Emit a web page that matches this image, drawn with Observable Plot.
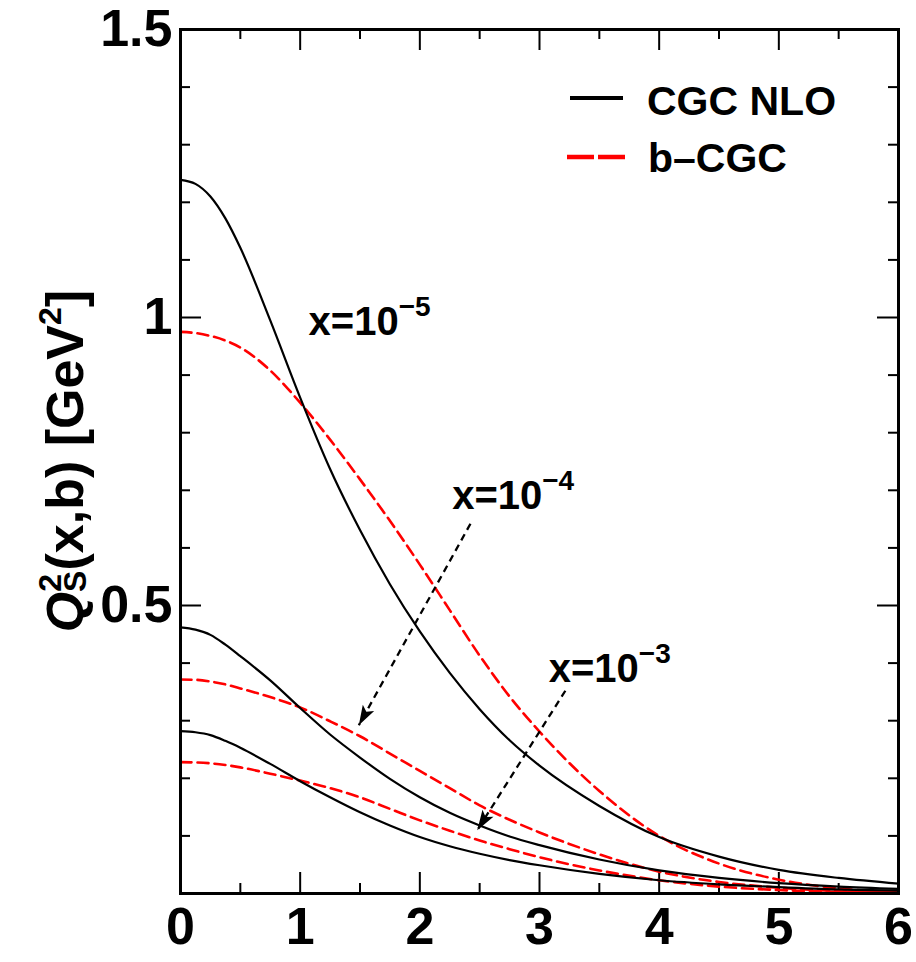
<!DOCTYPE html>
<html>
<head>
<meta charset="utf-8">
<script src="https://cdn.jsdelivr.net/npm/d3@7"></script>
<script src="https://cdn.jsdelivr.net/npm/@observablehq/plot@0.6"></script>
<style>
  html, body { margin: 0; padding: 0; background: #fff; }
  #chart { width: 916px; height: 962px; }
</style>
</head>
<body>
<div id="chart"></div>
<script>
// Impact parameter b [GeV^-1]
const bGrid = [0, 0.125, 0.25, 0.375, 0.5, 0.75, 1.0, 1.25, 1.5, 1.75, 2.0, 2.25, 2.5, 2.75, 3.0, 3.5, 4.0, 4.5, 5.0, 5.5, 6.0];

// Saturation scale Q_s^2(x,b) [GeV^2], CGC NLO
const nloX5 = [1.239, 1.232, 1.210, 1.172, 1.121, 0.995, 0.861, 0.737, 0.631, 0.537, 0.455, 0.383, 0.320, 0.266, 0.222, 0.152, 0.098, 0.064, 0.041, 0.027, 0.017];
const nloX4 = [0.462, 0.458, 0.449, 0.432, 0.412, 0.370, 0.322, 0.276, 0.236, 0.199, 0.167, 0.140, 0.118, 0.099, 0.084, 0.059, 0.040, 0.027, 0.018, 0.012, 0.008];
const nloX3 = [0.282, 0.280, 0.275, 0.265, 0.253, 0.225, 0.195, 0.167, 0.141, 0.118, 0.098, 0.082, 0.069, 0.058, 0.049, 0.034, 0.023, 0.016, 0.011, 0.007, 0.005];

// Saturation scale Q_s^2(x,b) [GeV^2], b-CGC
const bcgcX5 = [0.975, 0.973, 0.968, 0.960, 0.948, 0.908, 0.852, 0.788, 0.719, 0.647, 0.571, 0.492, 0.413, 0.342, 0.281, 0.178, 0.100, 0.052, 0.024, 0.009, 0.002];
const bcgcX4 = [0.3715, 0.371, 0.368, 0.363, 0.356, 0.341, 0.323, 0.299, 0.273, 0.243, 0.213, 0.183, 0.153, 0.128, 0.106, 0.068, 0.038, 0.020, 0.010, 0.004, 0.002];
const bcgcX3 = [0.228, 0.2275, 0.226, 0.223, 0.219, 0.208, 0.196, 0.183, 0.167, 0.147, 0.127, 0.109, 0.092, 0.077, 0.063, 0.040, 0.023, 0.012, 0.006, 0.003, 0.001];

// Axis ticks
const xMajor = [0, 1, 2, 3, 4, 5, 6];
const xMinor = [0.5, 1.5, 2.5, 3.5, 4.5, 5.5];
const yLabelled = [0.5, 1, 1.5];
const yMajor = [0, 0.5, 1, 1.5];
const yMinor = [0.1, 0.2, 0.3, 0.4, 0.6, 0.7, 0.8, 0.9, 1.1, 1.2, 1.3, 1.4];

// Annotations: x values and arrows pointing at the x=1e-4 and x=1e-3 pairs
const xLabels = [
  {b: 1.07, q: 0.969, text: "x=10^\u22125"},
  {b: 2.27, q: 0.668, text: "x=10^\u22124"},
  {b: 3.077, q: 0.367, text: "x=10^\u22123"}
];
const arrows = [
  {b1: 2.423, q1: 0.642, b2: 1.49, q2: 0.292},
  {b1: 3.216, q1: 0.352, b2: 2.48, q2: 0.110}
];

const legendEntries = ["CGC NLO", "b\u2013CGC"];

// Layout
const W = 916, H = 962;
const mL = 180, mR = 18, mT = 29, mB = 69;
const fw = W - mL - mR, fh = H - mT - mB;
const FONT = "'Liberation Sans', Arial, Helvetica, sans-serif";

const series = [
  {key: "nlo-5", kind: "nlo", q: nloX5},
  {key: "nlo-4", kind: "nlo", q: nloX4},
  {key: "nlo-3", kind: "nlo", q: nloX3},
  {key: "bcgc-5", kind: "bcgc", q: bcgcX5},
  {key: "bcgc-4", kind: "bcgc", q: bcgcX4},
  {key: "bcgc-3", kind: "bcgc", q: bcgcX3}
];
const rows = series.flatMap(s => bGrid.map((b, i) => ({key: s.key, kind: s.kind, b, q: s.q[i]})));

// pixel direction for the arrowheads (same linear mapping as the plot scales)
const px = d3.scaleLinear([0, 6], [mL, W - mR]);
const py = d3.scaleLinear([0, 1.5], [H - mB, mT]);
const headAngle = d => {
  const dx = px(d.b2) - px(d.b1), dy = py(d.q2) - py(d.q1);
  return Math.atan2(dx, -dy) * 180 / Math.PI;
};
// filled arrowhead, tip at the origin pointing up
const arrowHead = {
  draw(ctx) {
    const L = 20, w = 13;
    ctx.moveTo(0, 0);
    ctx.lineTo(-w / 2, L);
    ctx.lineTo(0, L * 0.78);
    ctx.lineTo(w / 2, L);
    ctx.closePath();
  }
};

const plot = Plot.plot({
  width: W,
  height: H,
  marginLeft: mL,
  marginRight: mR,
  marginTop: mT,
  marginBottom: mB,
  style: {fontFamily: FONT, background: "white"},
  x: {domain: [0, 6], axis: null},
  y: {domain: [0, 1.5], axis: null},
  marks: [
    Plot.axisX({ticks: xMajor, tickSize: 0, tickPadding: 14, label: null, fontSize: 52, fontWeight: "bold", tickFormat: d => `${d}`}),
    Plot.axisY({ticks: yLabelled, tickSize: 0, tickPadding: 8, label: null, fontSize: 52, fontWeight: "bold", tickFormat: d => `${d}`}),
    // inward ticks on all four sides
    Plot.tickX(xMajor, {x: d => d, insetTop: fh - 21, strokeWidth: 2}),
    Plot.tickX(xMinor, {x: d => d, insetTop: fh - 10, strokeWidth: 2}),
    Plot.tickX(xMajor, {x: d => d, insetBottom: fh - 21, strokeWidth: 2}),
    Plot.tickX(xMinor, {x: d => d, insetBottom: fh - 10, strokeWidth: 2}),
    Plot.tickY(yMajor, {y: d => d, insetRight: fw - 21, strokeWidth: 2}),
    Plot.tickY(yMinor, {y: d => d, insetRight: fw - 10, strokeWidth: 2}),
    Plot.tickY(yMajor, {y: d => d, insetLeft: fw - 21, strokeWidth: 2}),
    Plot.tickY(yMinor, {y: d => d, insetLeft: fw - 10, strokeWidth: 2}),
    // curves
    Plot.line(rows.filter(r => r.kind === "bcgc"), {x: "b", y: "q", z: "key", stroke: "#ff0000", strokeWidth: 2.6, strokeDasharray: "11,6", curve: "monotone-x"}),
    Plot.line(rows.filter(r => r.kind === "nlo"), {x: "b", y: "q", z: "key", stroke: "black", strokeWidth: 2.2, curve: "monotone-x"}),
    // annotation arrows
    Plot.link(arrows, {x1: "b1", y1: "q1", x2: "b2", y2: "q2", stroke: "black", strokeWidth: 2.3, strokeDasharray: "7,5"}),
    Plot.dot(arrows, {x: "b2", y: "q2", symbol: arrowHead, rotate: headAngle, fill: "black", stroke: "none"}),
    Plot.text(xLabels, {x: "b", y: "q", text: "text", textAnchor: "start", lineAnchor: "bottom", fontSize: 40, fontWeight: "bold", fill: "black"}),
    Plot.frame({stroke: "black", strokeWidth: 3})
  ]
});

document.getElementById("chart").appendChild(plot);

const svg = d3.select(plot);

// superscripts in the x labels
svg.selectAll("text").each(function () {
  const t = this.textContent;
  if (!t.includes("^")) return;
  const [base, sup] = t.split("^");
  const sel = d3.select(this);
  sel.text(null);
  sel.append("tspan").text(base);
  sel.append("tspan").attr("font-size", 28).attr("dy", -19).text(sup);
});

// y-axis title
const yt = svg.append("text")
  .attr("transform", `translate(83,${mT + fh / 2}) rotate(-90)`)
  .attr("text-anchor", "middle")
  .attr("font-family", FONT)
  .attr("font-size", 52)
  .attr("font-weight", "bold")
  .attr("fill", "black");
yt.append("tspan").attr("font-style", "italic").text("Q");
yt.append("tspan").attr("font-size", 32).attr("dy", -22).text("2");
yt.append("tspan").attr("font-size", 32).attr("dx", -18).attr("dy", 25).text("S");
yt.append("tspan").attr("dy", -3).text("(x,b) [GeV");
yt.append("tspan").attr("font-size", 32).attr("dy", -22).text("2");
yt.append("tspan").attr("dy", 22).text("]");

// legend, top right of the frame
const right = W - mR;
const lg = svg.append("g")
  .attr("font-family", FONT).attr("font-size", 41).attr("font-weight", "bold")
  .attr("text-anchor", "start").attr("fill", "black");
lg.append("line").attr("x1", right - 328).attr("x2", right - 275).attr("y1", 98).attr("y2", 98)
  .attr("stroke", "black").attr("stroke-width", 4);
lg.append("line").attr("x1", right - 331).attr("x2", right - 272).attr("y1", 157).attr("y2", 157)
  .attr("stroke", "#ff0000").attr("stroke-width", 4.5).attr("stroke-dasharray", "27,4");
lg.append("text").attr("x", right - 251).attr("y", 115).text(legendEntries[0]);
lg.append("text").attr("x", right - 250).attr("y", 172).text(legendEntries[1]);
</script>
</body>
</html>
